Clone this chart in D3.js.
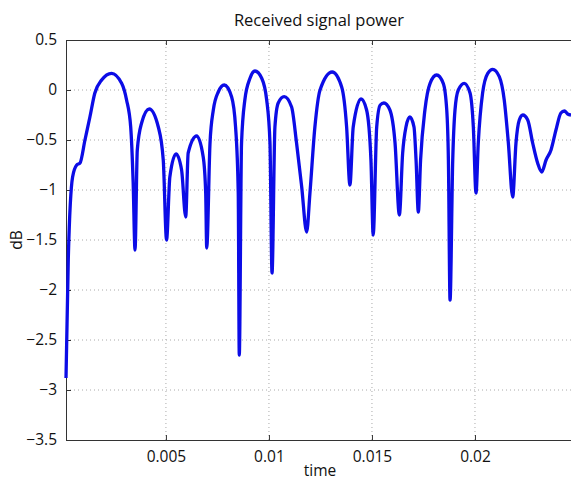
<!DOCTYPE html>
<html>
<head>
<meta charset="utf-8">
<script src="https://cdn.jsdelivr.net/npm/d3@7"></script>
<style>
  body { margin: 0; background: #fff; }
  text { font-family: "Open Sans", "Liberation Sans", sans-serif; fill: #111; }
</style>
</head>
<body>
<div id="chart"></div>
<script>
// time samples (s)
const times = [
  0.00015, 0.00026, 0.00047, 0.00067, 0.00083, 0.00107, 0.00131, 0.00155, 0.00188, 0.00236,
  0.00285, 0.00309, 0.00329, 0.00341, 0.00350, 0.00361, 0.00382, 0.00419, 0.00463, 0.00487,
  0.00503, 0.00519, 0.00549, 0.00576, 0.00596, 0.00608, 0.00649, 0.00681, 0.00693, 0.00698,
  0.00714, 0.00730, 0.00754, 0.00783, 0.00819, 0.00838, 0.00851, 0.00856, 0.00867, 0.00883,
  0.00908, 0.00932, 0.00965, 0.00989, 0.01005, 0.01015, 0.01029, 0.01045, 0.01074, 0.01110,
  0.01134, 0.01159, 0.01183, 0.01199, 0.01223, 0.01248, 0.01307, 0.01353, 0.01377, 0.01393,
  0.01409, 0.01447, 0.01474, 0.01495, 0.01506, 0.01523, 0.01540, 0.01558, 0.01587, 0.01612,
  0.01633, 0.01649, 0.01665, 0.01684, 0.01704, 0.01714, 0.01725, 0.01736, 0.01757, 0.01782,
  0.01814, 0.01846, 0.01863, 0.01871, 0.01879, 0.01892, 0.01903, 0.01919, 0.01948, 0.01976,
  0.01992, 0.02005, 0.02016, 0.02037, 0.02062, 0.02086, 0.02118, 0.02142, 0.02162, 0.02183,
  0.02199, 0.02215, 0.02232, 0.02256, 0.02280, 0.02304, 0.02324, 0.02345, 0.02369, 0.02393,
  0.02417, 0.02434, 0.02450, 0.02466
];

// received power (dB)
const power = [
  -2.88, -1.70, -0.87, -0.75, -0.73, -0.50, -0.27, -0.03, 0.10, 0.167,
  0.067, -0.10, -0.37, -0.93, -1.60, -0.60, -0.33, -0.19, -0.37, -0.70,
  -1.50, -0.87, -0.64, -0.80, -1.27, -0.63, -0.46, -0.67, -1.03, -1.58,
  -0.53, -0.20, -0.02, 0.05, -0.07, -0.37, -1.03, -2.65, -0.53, -0.10,
  0.117, 0.19, 0.117, -0.10, -0.53, -1.83, -0.37, -0.13, -0.067, -0.17,
  -0.53, -0.97, -1.42, -1.03, -0.37, 0.00, 0.18, 0.03, -0.37, -0.95,
  -0.37, -0.09, -0.20, -0.70, -1.45, -0.37, -0.15, -0.13, -0.20, -0.53,
  -1.25, -0.63, -0.37, -0.27, -0.37, -0.70, -1.22, -0.70, -0.20, 0.067,
  0.15, 0.067, -0.20, -0.70, -2.10, -0.70, -0.20, 0.00, 0.067, -0.03,
  -0.37, -1.03, -0.53, -0.03, 0.167, 0.207, 0.133, -0.10, -0.53, -1.07,
  -0.53, -0.30, -0.25, -0.30, -0.53, -0.73, -0.82, -0.70, -0.60, -0.40,
  -0.23, -0.21, -0.24, -0.25
];

const xTicks = [0.005, 0.01, 0.015, 0.02];
const yTicks = [0.5, 0, -0.5, -1, -1.5, -2, -2.5, -3, -3.5];

const width = 571, height = 480;
const margin = { top: 40, right: -7, bottom: 40, left: 66 };

const svg = d3.select("#chart")
  .append("svg")
  .attr("width", width)
  .attr("height", height);

const x = d3.scaleLinear()
  .domain([0.00015, 0.025])
  .range([margin.left, width - margin.right]);

const y = d3.scaleLinear()
  .domain([-3.5, 0.5])
  .range([height - margin.bottom, margin.top]);

const fmt = d => (d < 0 ? "\u2212" : "") + Math.abs(d);

// dotted grid
svg.append("g")
  .selectAll("line")
  .data(xTicks)
  .enter()
  .append("line")
  .attr("x1", d => x(d)).attr("x2", d => x(d))
  .attr("y1", y(-3.5)).attr("y2", y(0.5))
  .attr("stroke", "#aaa")
  .attr("stroke-dasharray", "1,3");

svg.append("g")
  .selectAll("line")
  .data(yTicks.slice(1, -1))
  .enter()
  .append("line")
  .attr("x1", x.range()[0]).attr("x2", x.range()[1])
  .attr("y1", d => y(d)).attr("y2", d => y(d))
  .attr("stroke", "#aaa")
  .attr("stroke-dasharray", "1,3");

// axes with inward ticks on all four sides
const axBottom = svg.append("g")
  .attr("transform", `translate(0,${y(-3.5)})`)
  .call(d3.axisBottom(x).tickValues(xTicks).tickSizeInner(-5).tickSizeOuter(0).tickPadding(11).tickFormat(d3.format("")));
const axTop = svg.append("g")
  .attr("transform", `translate(0,${y(0.5)})`)
  .call(d3.axisTop(x).tickValues(xTicks).tickSizeInner(-5).tickSizeOuter(0).tickFormat(""));
const axLeft = svg.append("g")
  .attr("transform", `translate(${x.range()[0]},0)`)
  .call(d3.axisLeft(y).tickValues(yTicks).tickSizeInner(-5).tickSizeOuter(0).tickPadding(9).tickFormat(fmt));
const axRight = svg.append("g")
  .attr("transform", `translate(${x.range()[1]},0)`)
  .call(d3.axisRight(y).tickValues(yTicks).tickSizeInner(-5).tickSizeOuter(0).tickFormat(""));

[axBottom, axTop, axLeft, axRight].forEach(g => {
  g.selectAll("path, line").attr("stroke", "#333");
  g.selectAll("text").style("font-family", "'Open Sans', sans-serif").style("font-size", "15.5px").attr("fill", "#111");
});

// the signal
const line = d3.line()
  .x((d, i) => x(times[i]))
  .y(d => y(d))
  .curve(d3.curveMonotoneX);

svg.append("path")
  .datum(power)
  .attr("d", line)
  .attr("fill", "none")
  .attr("stroke", "#0c0ce6")
  .attr("stroke-width", 3.3)
  .attr("stroke-linejoin", "round");

// labels
svg.append("text")
  .attr("x", 319).attr("y", 26)
  .attr("text-anchor", "middle")
  .style("font-size", "16.5px")
  .text("Received signal power");

svg.append("text")
  .attr("x", 320).attr("y", 476)
  .attr("text-anchor", "middle")
  .style("font-size", "15.5px")
  .text("time");

svg.append("text")
  .attr("transform", `translate(22,${y(-1.5)}) rotate(-90)`)
  .attr("text-anchor", "middle")
  .style("font-size", "15.5px")
  .text("dB");
</script>
</body>
</html>
